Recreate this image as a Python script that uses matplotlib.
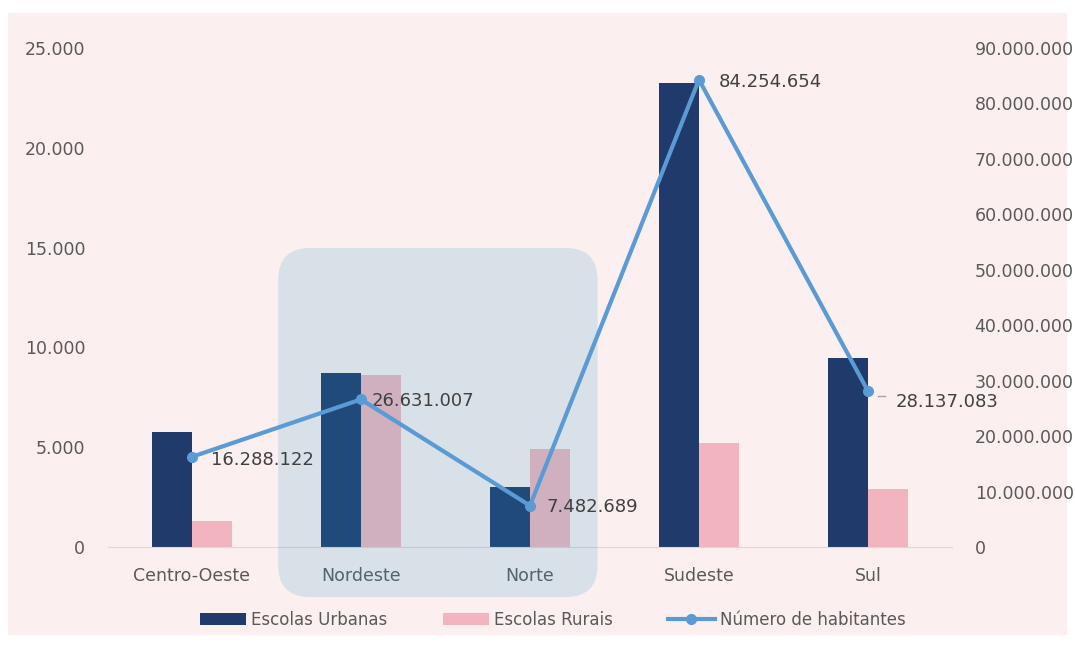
import matplotlib
matplotlib.use("Agg")
import matplotlib.pyplot as plt
from matplotlib.patches import FancyBboxPatch, Rectangle
from matplotlib.ticker import FuncFormatter

regioes = ["Centro-Oeste", "Nordeste", "Norte", "Sudeste", "Sul"]
escolas_urbanas = [5760, 8720, 3010, 23250, 9470]
escolas_rurais = [1300, 8620, 4910, 5210, 2910]
habitantes = [16288122, 26631007, 7482689, 84254654, 28137083]

COR_URB = "#1f3a6b"
COR_RUR = "#f2b5bf"
COR_LINHA = "#5b9bd5"
COR_TXT = "#595959"
FUNDO = "#fcefef"


def fmt_br(v, pos=None):
    return f"{int(round(v)):,}".replace(",", ".")


fig = plt.figure(figsize=(10.75, 6.46), dpi=100, facecolor="white")
fig.patches.append(Rectangle((8 / 1075, 1 - 635 / 646), 1059 / 1075, 622 / 646,
                             transform=fig.transFigure, facecolor=FUNDO,
                             edgecolor="none", zorder=-10))

ax = fig.add_axes([0.1, 0.153, 0.786, 0.773])
ax.set_facecolor("none")
ax2 = ax.twinx()

x = list(range(len(regioes)))
w = 0.235
ax.bar([i - w / 2 for i in x], escolas_urbanas, w, color=COR_URB,
       label="Escolas Urbanas", zorder=2)
ax.bar([i + w / 2 for i in x], escolas_rurais, w, color=COR_RUR,
       label="Escolas Rurais", zorder=2)

ax.set_xlim(-0.5, 4.5)
ax.set_ylim(0, 25000)
ax2.set_ylim(0, 90000000)

# destaque Nordeste / Norte (caixa arredondada, desenhada em pixels)
x0, y0 = ax.transData.transform((0.51, -2500))
x1, y1 = ax.transData.transform((2.40, 14980))
destaque = FancyBboxPatch((x0, y0), x1 - x0, y1 - y0,
                          boxstyle="round,pad=0,rounding_size=32",
                          transform=None, facecolor="#2a9cc4", alpha=0.17,
                          edgecolor="none", clip_on=False, zorder=3)
ax.add_patch(destaque)

ax2.plot(x, habitantes, color=COR_LINHA, lw=3, marker="o", ms=7,
         label="Número de habitantes", zorder=4)
offsets = [(14, -2), (8, -1), (12, -1), (14, -2), (20, -8)]
for xi, yi, (dx, dy) in zip(x, habitantes, offsets):
    ax2.annotate(fmt_br(yi), (xi, yi), xytext=(dx, dy), textcoords="offset points",
                 ha="left", va="center", fontsize=13, color="#404040")
ax2.plot([4.06, 4.1], [27.2e6, 27.2e6], color="#a6a6a6", lw=1)

ax.set_yticks(range(0, 25001, 5000))
ax2.set_yticks(range(0, 90000001, 10000000))
ax.yaxis.set_major_formatter(FuncFormatter(fmt_br))
ax2.yaxis.set_major_formatter(FuncFormatter(fmt_br))
ax.set_xticks(x)
ax.set_xticklabels(regioes)

for a in (ax, ax2):
    for s in a.spines.values():
        s.set_visible(False)
    a.tick_params(length=0, labelsize=12.5, labelcolor=COR_TXT)
ax.spines["bottom"].set_visible(True)
ax.spines["bottom"].set_color("#d9d9d9")
ax.tick_params(axis="y", pad=16)
ax.tick_params(axis="x", pad=14)
ax2.tick_params(axis="y", pad=16)

h1, l1 = ax.get_legend_handles_labels()
h2, l2 = ax2.get_legend_handles_labels()
fig.legend(h1 + h2, l1 + l2, loc="center", bbox_to_anchor=(0.514, 1 - 620 / 646),
           ncol=3, frameon=False, fontsize=12, labelcolor=COR_TXT,
           handlelength=2.8, columnspacing=3.3, handletextpad=0.3)

fig.savefig("out.png", dpi=100, facecolor="white")
